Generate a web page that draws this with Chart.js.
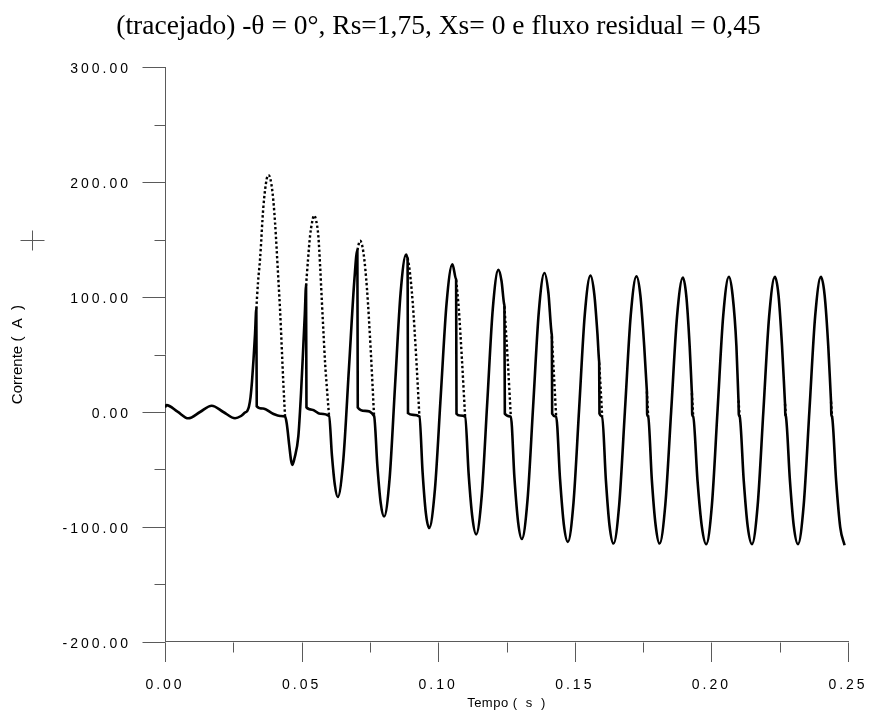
<!DOCTYPE html>
<html>
<head>
<meta charset="utf-8">
<script src="https://cdn.jsdelivr.net/npm/chart.js@4.4.0/dist/chart.umd.min.js"></script>
<style>
  html, body { margin: 0; padding: 0; background: #ffffff; }
  #wrap { width: 877px; height: 716px; position: relative; }
</style>
</head>
<body>
<div id="wrap"><canvas id="chart" width="877" height="716"></canvas></div>
<script>
// ---------- text ----------
const chartTitle = '(tracejado) -θ = 0°, Rs=1,75, Xs= 0 e fluxo residual = 0,45';
const xTitle = 'Tempo (  s  )';
const yTitle = 'Corrente (  A  )';

// ---------- tick labels ----------
const xTicks = [0, 0.05, 0.10, 0.15, 0.20, 0.25];
const xMinorTicks = [0.025, 0.075, 0.125, 0.175, 0.225];
const yTicks = [-200, -100, 0, 100, 200, 300];
const yMinorTicks = [-150, -50, 50, 150, 250];

// ---------- solid curve : time (s) / current (A) ----------
const timeSolid = [
  0, 0.00055, 0.00458, 0.00853, 0.01282, 0.01710, 0.02135, 0.02563, 0.02783, 0.02929, 0.03014, 0.03076, 0.03131, 0.03186, 0.03241, 0.03296, 0.03343,
  0.03358, 0.03588, 0.03955, 0.04211, 0.04394,
  0.04456, 0.04552, 0.04614, 0.04661, 0.04742, 0.04881, 0.04980, 0.05064, 0.05119, 0.05163,
  0.05178, 0.05383, 0.05676, 0.06005,
  0.06111, 0.06214, 0.06324, 0.06529, 0.06732, 0.06935, 0.07041,
  0.07056, 0.07323, 0.07653,
  0.07774, 0.07895, 0.08019, 0.08221, 0.08422, 0.08623, 0.08825,
  0.08876, 0.08880, 0.08894, 0.09081, 0.09312,
  0.09429, 0.09546, 0.09667, 0.09879, 0.10093, 0.10308, 0.10520,
  0.10652, 0.10656, 0.10670, 0.10802, 0.10985,
  0.11117, 0.11252, 0.11388, 0.11593, 0.11796, 0.11999, 0.12204,
  0.12318, 0.12420, 0.12424, 0.12439, 0.12658,
  0.12790, 0.12926, 0.13061, 0.13268, 0.13475, 0.13682, 0.13889,
  0.14032, 0.14156, 0.14160, 0.14171, 0.14317,
  0.14460, 0.14599, 0.14746, 0.14952, 0.15159, 0.15366, 0.15573,
  0.15716, 0.15829, 0.15888, 0.15892, 0.15903, 0.16002,
  0.16137, 0.16272, 0.16415, 0.16626, 0.16836, 0.17047, 0.17257,
  0.17400, 0.17539, 0.17634, 0.17638, 0.17649, 0.17686,
  0.17821, 0.17961, 0.18100, 0.18314, 0.18528, 0.18742, 0.18957,
  0.19081, 0.19205, 0.19282, 0.19286, 0.19297, 0.19334,
  0.19491, 0.19649, 0.19810, 0.20018, 0.20225, 0.20432, 0.20641,
  0.20776, 0.20915, 0.20988, 0.20992, 0.21003, 0.21036,
  0.21183, 0.21329, 0.21483, 0.21694, 0.21904, 0.22115, 0.22325,
  0.22457, 0.22585, 0.22691, 0.22695, 0.22706, 0.22728,
  0.22874, 0.23017, 0.23167, 0.23378, 0.23588, 0.23799, 0.24010,
  0.24145, 0.24277, 0.24375, 0.24379, 0.24390, 0.24416,
  0.24566, 0.24716, 0.24874
];
const currentSolid = [
  4, 6, 0.3, -5.5, 0, 5.5, 0, -5.5, -3.5, -0.5, 1, 5, 13, 27, 46, 68, 90,
  5, 3, -1.5, -3.5, -4,
  -10, -30, -42, -46, -40, -21, 17, 58, 86, 110,
  4, 2, -1.5, -3.5,
  -38, -63, -74, -41, 37.5, 116, 141,
  4, 1, -3.5,
  -47, -79, -91, -58, 23.5, 103.5, 137,
  134.3, 134, -1, -2.5, -4,
  -52.5, -87.5, -101, -67.5, 14, 95, 128.6,
  115.8, 115, -1.5, -3, -4,
  -55, -92, -106.5, -73, 8.5, 90, 123.7,
  114, 93.2, 92, -1.5, -4,
  -57, -96, -110.5, -77, 5, 87, 121,
  104, 67.6, 66, -1.5, -4,
  -58.5, -98, -113, -79, 3, 85, 118.7,
  102, 68, 44.8, 43, -1.5, -4,
  -59, -99, -114.5, -80.5, 1.5, 84, 118,
  101.5, 58, 19.8, 18, -2, -4,
  -59.5, -99, -114.5, -80.5, 1, 83, 117,
  101, 57, 18.3, 16.5, -2, -4,
  -59.5, -99.5, -115, -81, 1.3, 83.6, 117.6,
  101.6, 57.6, 11.8, 10, -2, -4,
  -59.5, -99.6, -115, -81, 1.3, 83.6, 117.6,
  101.6, 57.6, 8.8, 7, -2, -4,
  -59.5, -99.6, -115, -81, 1.3, 83.6, 117.6,
  101.6, 57.6, 10.8, 9, -2, -4,
  -60, -100.4, -116
];

// ---------- dashed ("tracejado") curve : only where it departs from the solid one ----------
const timeDashed = [
  0.03343, 0.03405, 0.03479, 0.03599, 0.03724, 0.03783, 0.03845, 0.03936, 0.04028, 0.04138, 0.04211, 0.04332, 0.04394, null,
  0.05163, 0.05236, 0.05309, 0.05383, 0.05456, 0.05529, 0.05613, 0.05676, 0.05738, 0.05796, 0.05859, 0.05932, 0.06005, null,
  0.07041, 0.07140, 0.07268, 0.07397, 0.07525, 0.07653, null,
  0.08880, 0.08946, 0.09068, 0.09191, 0.09312, null,
  0.10656, 0.10753, 0.10868, 0.10985, null,
  0.12424, 0.12545, 0.12658, null,
  0.14160, 0.14237, 0.14317, null,
  0.15892, 0.15947, 0.16002, null,
  0.17638, 0.17686, null,
  0.19286, 0.19334, null,
  0.20992, 0.21036, null,
  0.22695, 0.22728, null,
  0.24379, 0.24416
];
const currentDashed = [
  90, 113, 133, 178, 203, 206, 204, 191, 165, 120, 89, 25, -4, null,
  110, 133, 153, 165, 171, 167, 153, 128, 98, 71, 43, 19, -3.5, null,
  141, 149, 138, 106, 56, -3.5, null,
  134, 125, 95, 49, -4, null,
  115, 90, 46, -4, null,
  92, 45, -4, null,
  66, 32, -4, null,
  43, 20, -4, null,
  18, -4, null,
  16.5, -4, null,
  10, -4, null,
  7, -4, null,
  9, -4
];

// ---------- build library data ----------
const solidData = timeSolid.map((t, i) => ({ x: t, y: currentSolid[i] }));
const dashedData = timeDashed.map((t, i) => ({
  x: t === null ? timeDashed[i - 1] : t,
  y: currentDashed[i]
}));

// ---------- style ----------
const AXIS_COLOR = '#5a5a5a';
const LABEL_FONT = 'Liberation Sans, Arial, Helvetica, sans-serif';
const LETTER_SPACING = { x: '3px', y: '3px' };
const TITLE_SPACING = { x: '0.5px', y: '0px' };

// letter spacing for tick labels / axis titles (HP-plot look)
const origDrawLabels = Chart.Scale.prototype.drawLabels;
Chart.Scale.prototype.drawLabels = function (area) {
  const ctx = this.ctx;
  const prev = ctx.letterSpacing;
  ctx.letterSpacing = LETTER_SPACING[this.id] || '0px';
  origDrawLabels.call(this, area);
  ctx.letterSpacing = prev || '0px';
};
const origDrawTitle = Chart.Scale.prototype.drawTitle;
Chart.Scale.prototype.drawTitle = function (area) {
  const ctx = this.ctx;
  const prev = ctx.letterSpacing;
  ctx.letterSpacing = TITLE_SPACING[this.id] || '0px';
  origDrawTitle.call(this, area);
  ctx.letterSpacing = prev || '0px';
};

// tick marks (major + minor) and the stray "+" marker of the original plot
const tickMarks = {
  id: 'tickMarks',
  afterDraw(chart) {
    const { ctx, scales: { x, y } } = chart;
    const xAxisY = Math.round(y.getPixelForValue(-200)) + 0.5;
    const yAxisX = Math.round(x.getPixelForValue(0)) + 0.5;
    ctx.save();
    ctx.strokeStyle = AXIS_COLOR;
    ctx.lineWidth = 1;
    ctx.beginPath();
    xTicks.forEach(v => {
      const px = Math.round(x.getPixelForValue(v)) + 0.5;
      ctx.moveTo(px, xAxisY); ctx.lineTo(px, xAxisY + 19.5);
    });
    xMinorTicks.forEach(v => {
      const px = Math.round(x.getPixelForValue(v)) + 0.5;
      ctx.moveTo(px, xAxisY); ctx.lineTo(px, xAxisY + 10);
    });
    yTicks.forEach(v => {
      const py = Math.round(y.getPixelForValue(v)) + 0.5;
      ctx.moveTo(yAxisX - 23, py); ctx.lineTo(yAxisX, py);
    });
    yMinorTicks.forEach(v => {
      const py = Math.round(y.getPixelForValue(v)) + 0.5;
      ctx.moveTo(yAxisX - 11, py); ctx.lineTo(yAxisX, py);
    });
    // "+" marker
    ctx.moveTo(20.5, 240.5); ctx.lineTo(44.5, 240.5);
    ctx.moveTo(32.5, 230.5); ctx.lineTo(32.5, 250.5);
    ctx.stroke();
    ctx.restore();
  }
};

new Chart(document.getElementById('chart'), {
  type: 'line',
  data: {
    datasets: [
      {
        label: 'contínuo',
        data: solidData,
        borderColor: '#000000',
        borderWidth: 2.6,
        pointRadius: 0,
        cubicInterpolationMode: 'monotone',
        fill: false
      },
      {
        label: 'tracejado',
        data: dashedData,
        borderColor: '#000000',
        borderWidth: 2.4,
        borderDash: [2.4, 2.4],
        pointRadius: 0,
        cubicInterpolationMode: 'monotone',
        spanGaps: false,
        fill: false
      }
    ]
  },
  options: {
    responsive: false,
    animation: false,
    devicePixelRatio: 1,
    layout: { padding: { left: 0, right: 0, top: 0, bottom: 0 } },
    plugins: {
      legend: { display: false },
      tooltip: { enabled: false },
      title: {
        display: true,
        text: chartTitle,
        color: '#000000',
        font: { family: 'Liberation Serif, Times New Roman, serif', size: 27.5, weight: 'normal' },
        padding: { top: 10.5, bottom: 23.8 }
      }
    },
    scales: {
      x: {
        type: 'linear',
        position: 'bottom',
        min: 0,
        max: 0.25,
        afterFit: s => { s.height = 74.2; s.paddingLeft = 0; s.paddingRight = 29; },
        afterBuildTicks: s => { s.ticks = xTicks.map(v => ({ value: v })); },
        ticks: {
          callback: v => Number(v).toFixed(2),
          color: '#000000',
          font: { family: LABEL_FONT, size: 14 },
          padding: 34.5,
          maxRotation: 0,
          autoSkip: false
        },
        grid: { display: false, drawTicks: false },
        border: { display: true, color: AXIS_COLOR, width: 1 },
        title: {
          display: true,
          text: xTitle,
          color: '#000000',
          font: { family: LABEL_FONT, size: 13 },
          padding: { top: 0, bottom: 5 }
        }
      },
      y: {
        type: 'linear',
        position: 'left',
        min: -200,
        max: 300,
        afterFit: s => { s.width = 165; s.paddingTop = 0; s.paddingBottom = 0; },
        afterBuildTicks: s => { s.ticks = yTicks.map(v => ({ value: v })); },
        ticks: {
          callback: v => Number(v).toFixed(2),
          color: '#000000',
          font: { family: LABEL_FONT, size: 14 },
          padding: 34,
          labelOffset: 2,
          autoSkip: false
        },
        grid: { display: false, drawTicks: false },
        border: { display: true, color: AXIS_COLOR, width: 1 },
        title: {
          display: true,
          text: yTitle,
          color: '#000000',
          font: { family: LABEL_FONT, size: 15 },
          padding: { top: 9, bottom: 0 }
        }
      }
    }
  },
  plugins: [tickMarks]
});
</script>
</body>
</html>
